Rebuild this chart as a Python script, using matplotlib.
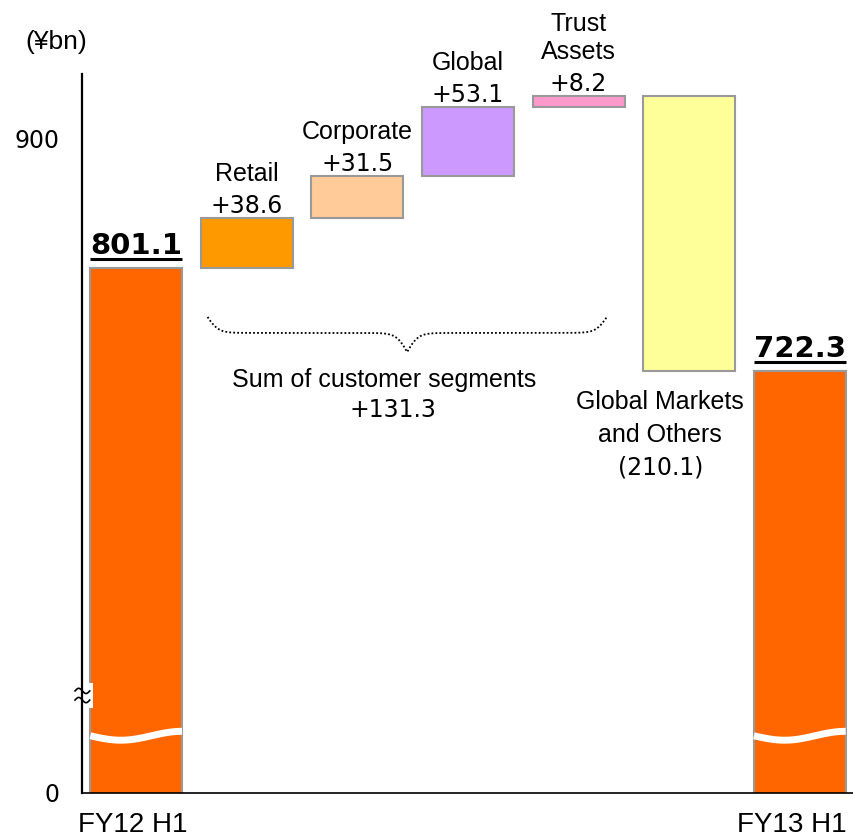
import numpy as np
import matplotlib

matplotlib.use("Agg")
import matplotlib.pyplot as plt  # noqa: E402
from matplotlib.patches import Rectangle  # noqa: E402
from matplotlib.transforms import offset_copy  # noqa: E402

WORD_FONT = "Liberation Sans"
NUM_FONT = "DejaVu Sans"

# net business profits, ¥bn
periods = ["FY12 H1", "FY13 H1"]
totals = [801.1, 722.3]
segments = ["Retail", "Corporate", "Global", "Trust\nAssets", "Global Markets\nand Others"]
changes = [38.6, 31.5, 53.1, 8.2, -210.1]
change_labels = ["+38.6", "+31.5", "+53.1", "+8.2", "(210.1)"]
customer_sum_label = ["Sum of customer segments", "+131.3"]
unit_label = "(¥bn)"
ytick_values = [900]
ytick_labels = ["0", "900"]

seg_colors = ["#FF9900", "#FFCC99", "#CC99FF", "#FF99CC", "#FFFF99"]
TOTAL_COLOR = "#FF6600"
EDGE = "#999999"

# broken value axis: bottom of the plot stands for 0
Y_FLOOR = 399.4
Y_TOP = 949.5
AXIS_BREAK = 474.0
BAR_BREAK = 443.2
BAR_W = 0.83

fig = plt.figure(figsize=(8.54, 8.40), dpi=100)
ax = fig.add_axes([82 / 854, 47 / 840, 772 / 854, 719 / 840])
ax.set_xlim(-0.49, 6.49)
ax.set_ylim(Y_FLOOR, Y_TOP)


def px(n):
    """pixel offset -> points"""
    return n * 72.0 / fig.dpi


# start / end totals
total_x = [0, len(segments) + 1]
ax.bar(total_x, totals, BAR_W, color=TOTAL_COLOR, edgecolor=EDGE, linewidth=1.5, zorder=2)

# floating segment bars
running = totals[0]
seg_x = np.arange(1, len(segments) + 1)
bottoms, heights = [], []
for d in changes:
    bottoms.append(running if d > 0 else running + d)
    heights.append(abs(d))
    running += d
ax.bar(seg_x, heights, BAR_W, bottom=bottoms, color=seg_colors,
       edgecolor=EDGE, linewidth=1.5, zorder=2)

# labels above the rising segments
for x, b, h, name, val in zip(seg_x, bottoms, heights, segments, change_labels):
    if val.startswith("("):
        continue
    top = b + h
    ax.annotate(val, (x, top), xytext=(0, px(12)), textcoords="offset points",
                ha="center", va="center", fontsize=17, family=NUM_FONT)
    lines = name.split("\n")
    for i, line in enumerate(reversed(lines)):
        ax.annotate(line, (x, top), xytext=(0, px(44 + 28 * i)), textcoords="offset points",
                    ha="center", va="center", fontsize=18, family=WORD_FONT)

# label below the falling segment
x_gm, b_gm = seg_x[-1], bottoms[-1]
gm_lines = segments[-1].split("\n") + [change_labels[-1]]
for i, line in enumerate(gm_lines):
    fam, size = (NUM_FONT, 17) if line == change_labels[-1] else (WORD_FONT, 18)
    ax.annotate(line, (x_gm, b_gm), xytext=(px(-29), -px(31 + 33 * i)),
                textcoords="offset points", ha="center", va="center",
                fontsize=size, family=fam)

# underlined totals
for x, v in zip(total_x, totals):
    ax.annotate(f"{v:.1f}", (x, v), xytext=(0, px(22)), textcoords="offset points",
                ha="center", va="center", fontsize=21, fontweight="bold", family=NUM_FONT)
    under = offset_copy(ax.transData, fig=fig, y=9, units="dots")
    ax.plot([x - BAR_W / 2, x + BAR_W / 2], [v, v], color="black", lw=2.2,
            transform=under, solid_capstyle="butt", zorder=3)

# wavy white cut across the total bars
t = np.linspace(0, 1, 60)
for x in total_x:
    ax.plot(x - BAR_W / 2 + BAR_W * t, BAR_BREAK - 3.4 * np.sin(1.5 * np.pi * t),
            color="white", lw=5, solid_capstyle="butt", zorder=3)

# dotted brace over the customer segments
left, right = seg_x[0] - 0.355, seg_x[3] + 0.255
mid = (left + right) / 2
brace_top, drop1, drop2 = 763.6, 24.4, 29.2
beta = 20.0
bx = np.linspace(left, mid, 200)
by = brace_top - drop1 * (1 / (1 + np.exp(-beta * (bx - left))) - 0.5) \
    - drop2 * (1 / (1 + np.exp(-beta * (bx - mid))))
bx = np.concatenate([bx, (2 * mid - bx)[::-1]])
by = np.concatenate([by, by[::-1]])
ax.plot(bx, by, color="black", lw=1.3, ls=(0, (1, 1.2)), zorder=3)

ax.annotate(customer_sum_label[0], (mid, by.min()), xytext=(px(-23), -px(28)),
            textcoords="offset points", ha="center", va="center",
            fontsize=18, family=WORD_FONT)
ax.annotate(customer_sum_label[1], (mid, by.min()), xytext=(px(-14), -px(58)),
            textcoords="offset points", ha="center", va="center",
            fontsize=17, family=NUM_FONT)

# axes styling
for side in ("top", "right"):
    ax.spines[side].set_visible(False)
ax.spines["left"].set_linewidth(1.6)
ax.spines["bottom"].set_linewidth(1.2)
ax.tick_params(length=0)
ax.set_yticks([Y_FLOOR] + ytick_values)
ax.set_yticklabels(ytick_labels, fontsize=17, family=NUM_FONT)
ax.tick_params(axis="y", pad=px(22))
ax.set_xticks([])
for x, name, dx in zip(total_x, periods, (-3, -8)):
    ax.annotate(name, (x, 0), xycoords=ax.get_xaxis_transform(),
                xytext=(px(dx), -px(32)), textcoords="offset points",
                ha="center", va="center", fontsize=20, family=WORD_FONT,
                annotation_clip=False)

ax.text(-0.033, 1.045, unit_label, transform=ax.transAxes, ha="center", va="center",
        fontsize=19, family=WORD_FONT)

# break mark on the value axis
yax = ax.get_yaxis_transform()
ax.add_patch(Rectangle((0.002, AXIS_BREAK - 9.5), 0.012, 19, transform=yax,
                       facecolor="white", edgecolor="none", clip_on=False, zorder=4))
sx = np.linspace(-0.009, 0.010, 30)
for dy in (-3.5, 3.5):
    ax.plot(sx, AXIS_BREAK + dy + 2.0 * np.sin(2 * np.pi * (sx - sx[0]) / (sx[-1] - sx[0])),
            color="black", lw=1.2, transform=yax, clip_on=False, zorder=5)

fig.savefig("out.png", dpi=100, facecolor="white")
